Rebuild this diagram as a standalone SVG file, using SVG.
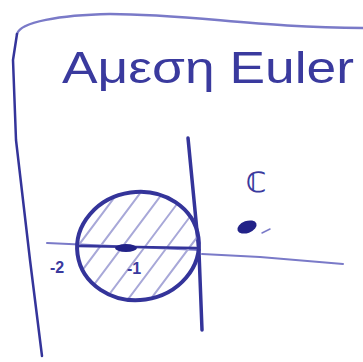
<svg xmlns="http://www.w3.org/2000/svg" width="363" height="362" viewBox="0 0 363 362">
<style>
.ink{fill:none;stroke:#34349a;stroke-linecap:round;stroke-linejoin:round}
.light{fill:none;stroke:#7a7ac8;stroke-linecap:round}
.hatch{fill:none;stroke:#a8a8d8;stroke-width:2;stroke-linecap:round}
.txt{font-family:"Liberation Sans","DejaVu Sans",sans-serif;fill:#3a3a9e}
</style>
<rect width="363" height="362" fill="#ffffff"/>
<g id="frame">
<path class="light" stroke-width="2.5" d="M17,34 C20,22 60,15 110,14 C190,14 260,28 363,28"/>
<path class="ink" stroke-width="2.5" d="M17,34 L13,60 L16,140 L30,260 L42,356"/>
</g>
<g id="title">
<text class="txt" x="62" y="83" font-size="44" textLength="292" lengthAdjust="spacingAndGlyphs">Αμεση Euler</text>
</g>
<g id="axes">
<path class="light" stroke-width="2" d="M47,243 L200,250"/>
<path class="light" stroke-width="2" d="M202,254 L260,257 L343,264"/>
<path class="ink" stroke-width="3.5" d="M188,138 L194,200 L199,252 L202,330"/>
</g>
<g id="disk">
<clipPath id="c"><ellipse cx="138" cy="246" rx="60" ry="53" transform="rotate(-8 138 246)"/></clipPath>
<g clip-path="url(#c)" class="hatch">
<path d="M60,300 L150,180 M75,310 L165,190 M90,320 L180,200 M105,330 L195,210 M120,340 L210,220 M45,290 L135,170 M30,280 L120,160 M135,350 L225,230"/>
</g>
<ellipse class="ink" stroke-width="4" cx="138" cy="246" rx="61" ry="54" transform="rotate(-8 138 246)"/>
<path class="ink" stroke-width="2.5" d="M78,246 L196,248"/>
<ellipse cx="126" cy="248" rx="11" ry="4" fill="#222288"/>
</g>
<g id="labels">
<text class="txt" x="50" y="273" font-size="16" font-weight="bold">-2</text>
<text class="txt" x="127" y="274" font-size="16" font-weight="bold">-1</text>
<text class="txt" x="246" y="192" font-size="28" font-weight="bold">ℂ</text>
<ellipse cx="247" cy="227" rx="10" ry="6" fill="#222288" transform="rotate(-20 247 227)"/>
<path class="light" stroke-width="1.5" d="M262,233 L270,229"/>
</g>
</svg>
